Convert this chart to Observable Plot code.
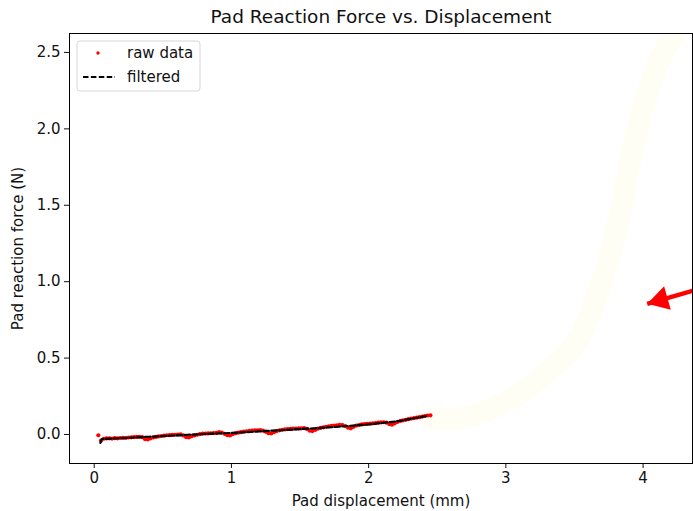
<!DOCTYPE html>
<html>
<head>
<meta charset="utf-8">
<script src="https://cdn.jsdelivr.net/npm/d3@7"></script>
<script src="https://cdn.jsdelivr.net/npm/@observablehq/plot@0.6"></script>
<style>
  html, body { margin: 0; padding: 0; background: #fff; }
  svg { display: block; }
</style>
</head>
<body>
<div id="chart"></div>
<script>
const titleText = "Pad Reaction Force vs. Displacement";
const xLabel = "Pad displacement (mm)";
const yLabel = "Pad reaction force (N)";
const xTicks = [0, 1, 2, 3, 4];
const yTicks = [0.0, 0.5, 1.0, 1.5, 2.0, 2.5];
const legendLabels = ["raw data", "filtered"];

// raw data (displacement mm, force N)
const rawX = [0.03,0.05,0.07,0.09,0.11,0.13,0.15,0.17,0.19,0.21,0.23,0.25,0.27,0.29,0.31,0.33,0.35,0.37,0.39,0.41,
  0.43,0.45,0.47,0.49,0.51,0.53,0.55,0.57,0.59,0.61,0.63,0.65,0.67,0.69,0.71,0.73,0.75,0.77,0.79,0.81,
  0.83,0.85,0.87,0.89,0.91,0.93,0.95,0.97,0.99,1.01,1.03,1.05,1.07,1.09,1.11,1.13,1.15,1.17,1.19,1.21,
  1.23,1.25,1.27,1.29,1.31,1.33,1.35,1.37,1.39,1.41,1.43,1.45,1.47,1.49,1.51,1.53,1.55,1.57,1.59,1.61,
  1.63,1.65,1.67,1.69,1.71,1.73,1.75,1.77,1.79,1.81,1.83,1.85,1.87,1.89,1.91,1.93,1.95,1.97,1.99,2.01,
  2.03,2.05,2.07,2.09,2.11,2.13,2.15,2.17,2.19,2.21,2.23,2.25,2.27,2.29,2.31,2.33,2.35,2.37,2.39,2.41,
  2.43,2.45];
const rawY = [-0.005,-0.040,-0.028,-0.026,-0.025,-0.027,-0.024,-0.025,-0.023,-0.022,-0.023,-0.020,-0.019,-0.017,-0.016,-0.015,-0.018,-0.030,-0.033,-0.026,
  -0.020,-0.016,-0.013,-0.010,-0.008,-0.005,-0.004,-0.003,-0.002,-0.001,0.000,-0.006,-0.018,-0.020,-0.012,-0.006,-0.002,0.002,0.005,0.006,
  0.007,0.008,0.009,0.010,0.016,0.012,0.004,-0.005,-0.006,0.002,0.008,0.012,0.015,0.018,0.021,0.024,0.026,0.027,0.027,0.028,
  0.025,0.018,0.008,0.007,0.015,0.022,0.027,0.031,0.033,0.035,0.037,0.038,0.039,0.040,0.040,0.042,0.036,0.025,0.022,0.030,
  0.038,0.043,0.047,0.050,0.053,0.056,0.058,0.060,0.063,0.062,0.055,0.044,0.040,0.050,0.058,0.062,0.066,0.068,0.070,0.071,
  0.073,0.075,0.077,0.079,0.080,0.077,0.068,0.064,0.073,0.082,0.088,0.092,0.096,0.100,0.104,0.107,0.110,0.113,0.117,0.121,
  0.124,0.125];

// filtered curve
const filtX = [0.045,0.055,0.2,0.4,0.6,0.8,1.0,1.2,1.4,1.6,1.8,2.0,2.2,2.43];
const filtY = [-0.055,-0.030,-0.024,-0.015,-0.006,0.003,0.010,0.020,0.030,0.040,0.052,0.066,0.085,0.122];

// faint background trace (erased continuation)
const traceX = [2.47,2.7,2.95,3.15,3.35,3.5,3.62,3.72,3.82,3.92,4.02,4.12,4.22];
const traceY = [0.10,0.11,0.19,0.30,0.45,0.58,0.80,1.06,1.40,1.85,2.20,2.45,2.60];

// red annotation arrow
const arrowFrom = {x: 4.40, y: 0.95};
const arrowTo = {x: 4.03, y: 0.855};

const raw = rawX.map((x, i) => ({x, y: rawY[i]}));
const filt = filtX.map((x, i) => ({x, y: filtY[i]}));
const trace = traceX.map((x, i) => ({x, y: traceY[i]}));

const W = 693, H = 511;
const font = "DejaVu Sans, sans-serif";
const fs = 15;

const chart = Plot.plot({
  width: W,
  height: H,
  marginLeft: 69,
  marginRight: 1,
  marginTop: 33,
  marginBottom: 48,
  style: {fontFamily: font, fontSize: fs + "px", color: "#111", background: "#fff"},
  x: {domain: [-0.18, 4.36]},
  y: {domain: [-0.19, 2.624]},
  marks: [
    Plot.line(trace, {x: "x", y: "y", stroke: "#fffef4", strokeWidth: 22, strokeLinecap: "round", strokeLinejoin: "round", curve: "catmull-rom", clip: true}),
    Plot.dot(raw, {x: "x", y: "y", r: 2.1, fill: "#ff0000", stroke: "none"}),
    Plot.line(filt, {x: "x", y: "y", stroke: "#000", strokeWidth: 2.2, strokeDasharray: "5.5,2.4"}),
    Plot.link([{x1: arrowFrom.x, y1: arrowFrom.y, x2: arrowTo.x, y2: arrowTo.y}], {x1: "x1", y1: "y1", x2: "x2", y2: "y2", stroke: "#ff0000", strokeWidth: 4.5, clip: true}),
    Plot.dot([arrowTo], {x: "x", y: "y", symbol: "triangle", r: 9, rotate: 254, fill: "#ff0000", stroke: "none", dx: 13.5, dy: -3.9}),
    Plot.axisX({ticks: xTicks, tickSize: 5, tickPadding: 4, fontSize: fs, tickFormat: d3.format("d"),
      label: xLabel, labelAnchor: "center", labelArrow: "none", labelOffset: 42}),
    Plot.axisY({ticks: yTicks, tickSize: 5, tickPadding: 4, fontSize: fs, tickFormat: d3.format(".1f"),
      label: yLabel, labelAnchor: "center", labelArrow: "none", labelOffset: 57}),
    Plot.frame({stroke: "#000", strokeWidth: 1}),
    Plot.text([titleText], {text: d => d, frameAnchor: "top", lineAnchor: "middle", dy: -16, fontSize: 18.5, fill: "#111"})
  ]
});

document.getElementById("chart").appendChild(chart);

// legend (matplotlib style, upper left)
const svg = d3.select(chart);
const g = svg.append("g").attr("transform", "translate(77,41)")
  .attr("font-family", font).attr("font-size", fs).attr("text-anchor", "start");
g.append("rect").attr("x", 0).attr("y", 0).attr("width", 123).attr("height", 50).attr("rx", 3)
  .attr("fill", "#fff").attr("fill-opacity", 0.8).attr("stroke", "#d6d6d6");
g.append("circle").attr("cx", 21).attr("cy", 12).attr("r", 1.7).attr("fill", "#ff0000");
g.append("text").attr("x", 50).attr("y", 12).attr("dy", "0.35em").attr("fill", "#111").text(legendLabels[0]);
g.append("line").attr("x1", 6).attr("x2", 38).attr("y1", 36).attr("y2", 36)
  .attr("stroke", "#000").attr("stroke-width", 2).attr("stroke-dasharray", "5.5,2.4");
g.append("text").attr("x", 50).attr("y", 36).attr("dy", "0.35em").attr("fill", "#111").text(legendLabels[1]);
</script>
</body>
</html>
